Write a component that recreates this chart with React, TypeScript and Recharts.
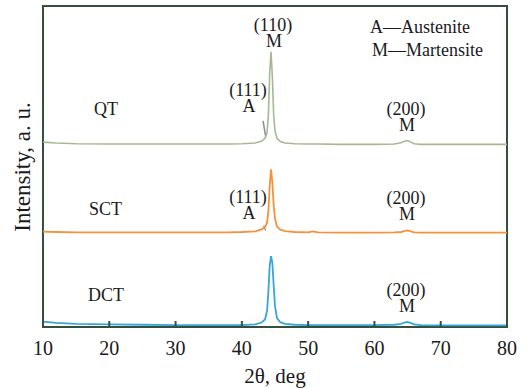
import React from 'react';
import { LineChart, Line, XAxis, YAxis, ReferenceArea, ReferenceLine } from 'recharts';

// 2θ positions (deg)
const twoTheta = [10, 12, 15, 20, 25, 30, 35, 38, 40, 42, 43, 43.5, 43.8, 44.0, 44.2, 44.4, 44.6, 44.8, 45.0, 45.3, 45.8, 46.5, 48, 50, 50.7, 51.5, 55, 60, 63, 64, 64.5, 65, 65.5, 66, 67, 70, 75, 80];

// stacked intensity (a.u., already offset as drawn)
const qtValues = [57.6, 57.3, 57.1, 57.0, 57.0, 57.0, 57.0, 57.0, 57.1, 57.3, 57.9, 58.8, 60.5, 66, 79, 85.7, 78, 66, 61, 58.8, 57.8, 57.3, 57.1, 57.0, 57.0, 57.0, 56.9, 56.9, 57.0, 57.4, 57.9, 58.1, 57.6, 57.1, 56.9, 56.9, 56.9, 56.9];
const sctValues = [29.7, 29.6, 29.5, 29.5, 29.5, 29.5, 29.5, 29.5, 29.6, 29.8, 30.4, 31.2, 32.5, 36, 44, 49.1, 45, 38, 33.8, 31.3, 30.3, 29.9, 29.6, 29.5, 29.8, 29.5, 29.4, 29.4, 29.5, 29.6, 29.9, 30.1, 29.8, 29.5, 29.4, 29.4, 29.4, 29.4];
const dctValues = [1.7, 1.3, 1.0, 0.8, 0.7, 0.6, 0.6, 0.6, 0.6, 0.8, 1.4, 2.4, 5, 11, 19, 22.1, 20, 13, 6.5, 2.8, 1.5, 1.0, 0.7, 0.6, 0.6, 0.6, 0.6, 0.6, 0.7, 1.0, 1.4, 1.6, 1.2, 0.8, 0.6, 0.5, 0.5, 0.5];

const xTicks = [10, 20, 30, 40, 50, 60, 70, 80];

const FONT = '"Liberation Serif", "Times New Roman", serif';
const FRAME = '#34503c';
const TEXT = '#1a1a1a';

const rows = twoTheta.map((t, i) => ({ t, qt: qtValues[i], sct: sctValues[i], dct: dctValues[i] }));

const Tick = (props: any) => {
  const { x, y, payload } = props;
  return (
    <g>
      <line x1={x} y1={y} x2={x} y2={y - 6} stroke={FRAME} strokeWidth={2} />
      <text x={x} y={y + 28} textAnchor="middle" fontFamily={FONT} fontSize={20} fill={TEXT}>
        {payload.value}
      </text>
    </g>
  );
};

// two-line peak label: (hkl) over phase letter
const PeakLabel = ({ x, y, hkl, phase }: { x: number; y: number; hkl: string; phase: string }) => (
  <text x={x} y={y} textAnchor="middle">
    <tspan x={x}>{hkl}</tspan>
    <tspan x={x + 1} dy={16}>{phase}</tspan>
  </text>
);

export default function App() {
  return (
    <div style={{ position: 'absolute', left: 0, top: 0, width: 532, height: 388, background: '#fff' }}>
      <LineChart width={532} height={388} data={rows} margin={{ top: 6, right: 25, bottom: 31, left: 43 }}>
        <XAxis
          type="number"
          dataKey="t"
          domain={[10, 80]}
          ticks={xTicks}
          tick={<Tick />}
          tickLine={false}
          axisLine={false}
          tickSize={0}
          tickMargin={0}
          height={30}
          interval={0}
        />
        <YAxis type="number" domain={[0, 100]} hide />
        <ReferenceLine segment={[{ x: 43.2, y: 64.2 }, { x: 43.6, y: 59.2 }]} stroke="#8c8c8c" strokeWidth={1.5} />
        <ReferenceLine segment={[{ x: 43.3, y: 31.6 }, { x: 43.6, y: 30.0 }]} stroke="#8c8c8c" strokeWidth={1.2} />
        <Line type="linear" dataKey="qt" stroke="#a7b893" strokeWidth={1.6} dot={false} isAnimationActive={false} />
        <Line type="linear" dataKey="sct" stroke="#f7913a" strokeWidth={1.8} dot={false} isAnimationActive={false} />
        <Line type="linear" dataKey="dct" stroke="#36a5dc" strokeWidth={1.8} dot={false} isAnimationActive={false} />
        <ReferenceArea x1={10} x2={80} y1={0} y2={100} fill="none" stroke={FRAME} strokeWidth={2} fillOpacity={0} strokeOpacity={1} />
      </LineChart>

      <svg width={532} height={388} style={{ position: 'absolute', left: 0, top: 0, pointerEvents: 'none' }}>
        <g fontFamily={FONT} fill={TEXT} fontSize={18}>
          <PeakLabel x={273} y={31} hkl="(110)" phase="M" />
          <text x={370} y={33}>A—Austenite</text>
          <text x={372} y={56}>M—Martensite</text>

          <text x={94} y={115}>QT</text>
          <PeakLabel x={248} y={96} hkl="(111)" phase="A" />
          <PeakLabel x={406} y={115} hkl="(200)" phase="M" />

          <text x={89} y={215}>SCT</text>
          <PeakLabel x={248} y={203} hkl="(111)" phase="A" />
          <PeakLabel x={406} y={204} hkl="(200)" phase="M" />

          <text x={88} y={301}>DCT</text>
          <PeakLabel x={406} y={296} hkl="(200)" phase="M" />
        </g>
        <text x={275} y={383} textAnchor="middle" fontFamily={FONT} fontSize={21} fill={TEXT}>2θ, deg</text>
        <text
          x={0}
          y={0}
          transform="translate(30,167) rotate(-90)"
          textAnchor="middle"
          fontFamily={FONT}
          fontSize={23}
          fill={TEXT}
        >
          Intensity, a. u.
        </text>
      </svg>
    </div>
  );
}
